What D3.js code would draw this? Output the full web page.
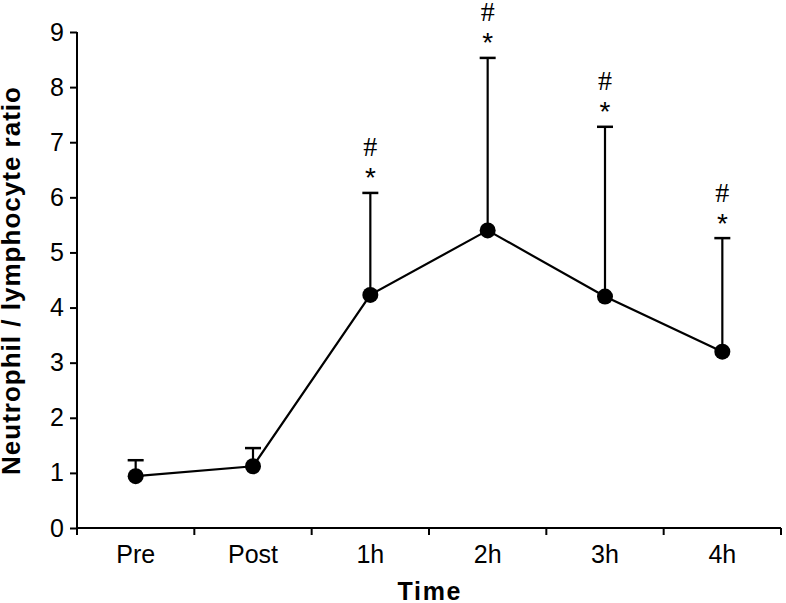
<!DOCTYPE html>
<html><head><meta charset="utf-8">
<script src="https://cdn.jsdelivr.net/npm/d3@7"></script>
<style>body{margin:0;background:#fff}svg{display:block}</style>
</head><body>
<svg id="chart" width="786" height="603"></svg>
<script>
const categories = ["Pre","Post","1h","2h","3h","4h"];
const means = [0.94, 1.12, 4.23, 5.40, 4.20, 3.20];
const errUpper = [1.23, 1.45, 6.08, 8.53, 7.28, 5.26];
const marks = ["", "", "#\n*", "#\n*", "#\n*", "#\n*"];
const yTicks = [0,1,2,3,4,5,6,7,8,9];

const svg = d3.select("#chart");
const pLeft = 77, pRight = 781, pTop = 32, pBottom = 528;
const x = d3.scaleBand().domain(categories).range([pLeft, pRight]);
const y = d3.scaleLinear().domain([0, 9]).range([pBottom, pTop]);
const font = "Arial, 'Liberation Sans', Helvetica, sans-serif";

// Y axis
const ya = svg.append("g").attr("transform", `translate(${pLeft},0)`)
  .call(d3.axisLeft(y).tickValues(yTicks).tickSize(7).tickPadding(6).tickFormat(d3.format("d")));
ya.select(".domain").attr("stroke", "#000").attr("stroke-width", 2).attr("d", `M0,${pBottom}V${pTop}`);
ya.selectAll(".tick line").attr("stroke", "#000").attr("stroke-width", 2);
ya.selectAll(".tick text").attr("font-family", font).attr("font-size", 25).attr("fill", "#000");

// X axis
const xa = svg.append("g").attr("transform", `translate(0,${pBottom})`)
  .call(d3.axisBottom(x).tickSize(0).tickPadding(17));
xa.select(".domain").attr("stroke", "#000").attr("stroke-width", 2).attr("d", `M${pLeft},0H${pRight}`);
xa.selectAll(".tick text").attr("font-family", font).attr("font-size", 25).attr("fill", "#000");
const bounds = categories.map(c => x(c)).concat([pRight]);
xa.selectAll(".bt").data(bounds).enter().append("line")
  .attr("x1", d => d).attr("x2", d => d).attr("y1", 0).attr("y2", 7)
  .attr("stroke", "#000").attr("stroke-width", 2);

const cx = c => x(c) + x.bandwidth() / 2;
const data = categories.map((c, i) => ({c, m: means[i], u: errUpper[i], mk: marks[i]}));

// error bars
const eb = svg.append("g");
eb.selectAll("line.v").data(data).enter().append("line")
  .attr("x1", d => cx(d.c)).attr("x2", d => cx(d.c))
  .attr("y1", d => y(d.m)).attr("y2", d => y(d.u))
  .attr("stroke", "#000").attr("stroke-width", 2.2);
eb.selectAll("line.cap").data(data).enter().append("line")
  .attr("x1", d => cx(d.c) - 8).attr("x2", d => cx(d.c) + 8)
  .attr("y1", d => y(d.u)).attr("y2", d => y(d.u))
  .attr("stroke", "#000").attr("stroke-width", 2.5);

// line
svg.append("path").datum(data)
  .attr("d", d3.line().x(d => cx(d.c)).y(d => y(d.m)))
  .attr("fill", "none").attr("stroke", "#000").attr("stroke-width", 2.2);

// points
svg.selectAll("circle.pt").data(data).enter().append("circle")
  .attr("cx", d => cx(d.c)).attr("cy", d => y(d.m)).attr("r", 8).attr("fill", "#000");

// significance marks
const sg = svg.append("g");
data.filter(d => d.mk).forEach(d => {
  const parts = d.mk.split("\n");
  sg.append("text").attr("x", cx(d.c)).attr("y", y(d.u) - 36.5)
    .attr("text-anchor", "middle").attr("font-family", "'Liberation Serif', 'Times New Roman', serif")
    .attr("font-size", 28).attr("fill", "#000").text(parts[0]);
  sg.append("text").attr("x", cx(d.c)).attr("y", y(d.u) - 5.5)
    .attr("text-anchor", "middle").attr("font-family", font)
    .attr("font-size", 28).attr("fill", "#000").text(parts[1]);
});

// axis titles
svg.append("text").attr("x", 429).attr("y", 600)
  .attr("text-anchor", "middle").attr("font-family", font).attr("font-weight", "bold")
  .attr("font-size", 25).attr("textLength", 63).attr("lengthAdjust", "spacing").text("Time");
svg.append("text").attr("transform", `translate(20,281) rotate(-90)`)
  .attr("text-anchor", "middle").attr("font-family", font).attr("font-weight", "bold")
  .attr("font-size", 26).attr("textLength", 388).attr("lengthAdjust", "spacing")
  .text("Neutrophil / lymphocyte ratio");
</script>
</body></html>
